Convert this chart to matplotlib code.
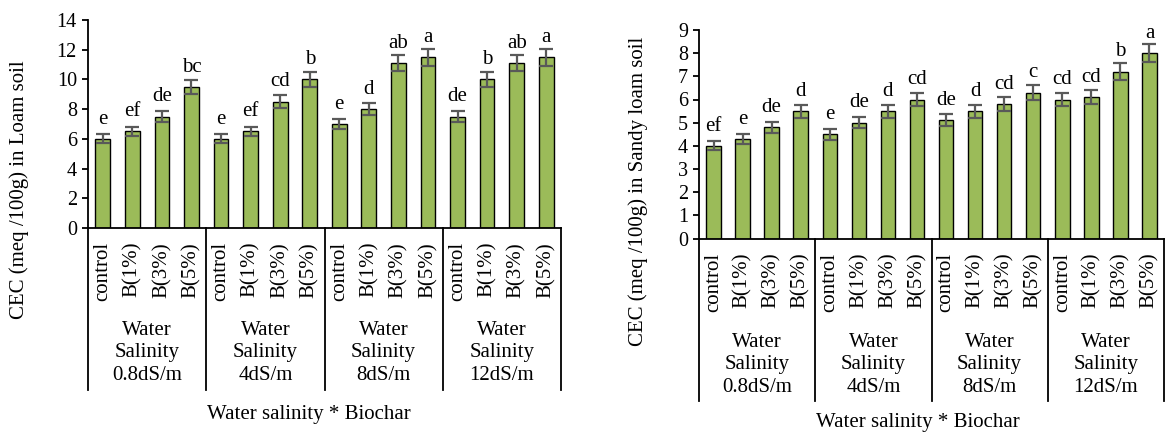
import matplotlib.pyplot as plt
import numpy as np

plt.rcParams['font.family'] = ['Liberation Serif', 'DejaVu Serif']

treatments = ['control', 'B(1%)', 'B(3%)', 'B(5%)']
salinity = ['Water\nSalinity\n0.8dS/m', 'Water\nSalinity\n4dS/m',
            'Water\nSalinity\n8dS/m', 'Water\nSalinity\n12dS/m']

# Loam soil
loam = [6.0, 6.5, 7.5, 9.5,
        6.0, 6.5, 8.5, 10.0,
        7.0, 8.0, 11.1, 11.5,
        7.5, 10.0, 11.1, 11.5]
loam_err = [0.3, 0.33, 0.38, 0.48,
            0.3, 0.33, 0.43, 0.5,
            0.35, 0.4, 0.56, 0.58,
            0.38, 0.5, 0.56, 0.58]
loam_letters = ['e', 'ef', 'de', 'bc',
                'e', 'ef', 'cd', 'b',
                'e', 'd', 'ab', 'a',
                'de', 'b', 'ab', 'a']

# Sandy loam soil
sandy = [4.0, 4.3, 4.8, 5.5,
         4.5, 5.0, 5.5, 6.0,
         5.1, 5.5, 5.8, 6.3,
         6.0, 6.1, 7.2, 8.0]
sandy_err = [0.2, 0.22, 0.24, 0.28,
             0.23, 0.25, 0.28, 0.3,
             0.26, 0.28, 0.29, 0.32,
             0.3, 0.3, 0.36, 0.4]
sandy_letters = ['ef', 'e', 'de', 'd',
                 'e', 'de', 'd', 'cd',
                 'de', 'd', 'cd', 'c',
                 'cd', 'cd', 'b', 'a']

W, H = 1169, 434
FS = 15
fig = plt.figure(figsize=(W / 100, H / 100), dpi=100)


def px_axes(x0, x1, y_top, y_bot):
    return fig.add_axes([x0 / W, 1 - y_bot / H, (x1 - x0) / W, (y_bot - y_top) / H])


def draw(ax, vals, errs, letters, ymax, ystep, sep_frac, grp_off):
    x = np.arange(len(vals))
    ax.bar(x, vals, width=0.5, color='#9BBB59', edgecolor='black', linewidth=1.0, zorder=2)
    ax.errorbar(x, vals, yerr=errs, fmt='none', ecolor='#595959', elinewidth=1.6,
                capsize=5, capthick=1.6, zorder=3)
    for xi, v, lab in zip(x, vals, letters):
        ax.annotate(lab, (xi, v), xytext=(0, 11), textcoords='offset points',
                    ha='center', va='baseline', fontsize=FS)
    ax.set_xlim(-0.5, len(vals) - 0.5)
    ax.set_ylim(0, ymax)
    ax.set_yticks(range(0, ymax + 1, ystep))
    ax.set_xticks([])
    for s in ['top', 'right']:
        ax.spines[s].set_visible(False)
    ax.spines['left'].set_linewidth(1.3)
    ax.spines['bottom'].set_linewidth(1.3)
    ax.tick_params(axis='y', direction='out', length=4, width=1.3, labelsize=14.5, pad=4)
    tr = ax.get_xaxis_transform()
    for b in [-0.5, 3.5, 7.5, 11.5, 15.5]:
        ax.plot([b, b], [0, sep_frac], transform=tr, color='black', lw=1.3, clip_on=False)
    for i, xi in enumerate(x):
        ax.annotate(treatments[i % 4], (xi, 0), xycoords=tr, xytext=(0, -10),
                    textcoords='offset points', rotation=90, ha='center', va='top',
                    fontsize=FS)
    for g, lab in enumerate(salinity):
        ax.annotate(lab, (g * 4 + 1.5, 0), xycoords=tr, xytext=(0, grp_off),
                    textcoords='offset points', ha='center', va='center',
                    fontsize=FS, linespacing=1.27)


ax1 = px_axes(88, 561, 20, 228)
draw(ax1, loam, loam_err, loam_letters, 14, 2, -162 / 208, -90)

ax2 = px_axes(699, 1164, 30, 238.5)
draw(ax2, sandy, sandy_err, sandy_letters, 9, 1, -162 / 208.5, -91)

fig.text(309 / W, 1 - 415 / H, 'Water salinity * Biochar', ha='center', va='center', fontsize=FS)
fig.text(918 / W, 1 - 422 / H, 'Water salinity * Biochar', ha='center', va='center', fontsize=FS)
fig.text(19 / W, 1 - 190 / H, 'CEC (meq /100g) in Loam soil', rotation=90,
         ha='center', va='center', fontsize=FS)
fig.text(638 / W, 1 - 191 / H, 'CEC (meq /100g) in Sandy loam soil', rotation=90,
         ha='center', va='center', fontsize=FS)

fig.savefig('out.png', dpi=100)
